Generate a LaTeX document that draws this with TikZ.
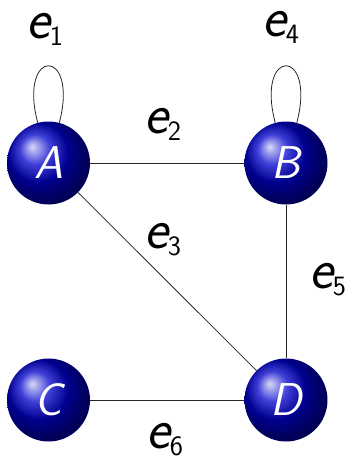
\documentclass[tikz,border=0pt]{standalone}
\usepackage{tikz}
\tikzset{
  vertex/.style={circle, minimum size=83pt, inner sep=0pt, ball color=blue!80!black,
    text=white, font=\fontsize{46}{50}\selectfont\sffamily\itshape},
  edge/.style={draw=black!85, line width=0.8pt},
  elabel/.style={anchor=base west, inner sep=0pt, outer sep=0pt}
}
\newcommand{\elab}[1]{{\fontsize{57}{60}\selectfont\sffamily\itshape e}\raisebox{-7pt}{\fontsize{28}{30}\selectfont\sffamily #1}}
\begin{document}
\begin{tikzpicture}[x=1pt,y=-1pt]
\useasboundingbox (0,0) rectangle (353,460);
\node[vertex] (A) at (48.5,163) {A};
\node[vertex] (B) at (286,163) {B};
\node[vertex] (C) at (48.5,400) {C};
\node[vertex] (D) at (286,400) {D};
\draw[edge] (A) -- (B);
\draw[edge] (A) -- (D);
\draw[edge] (B) -- (D);
\draw[edge] (C) -- (D);
\draw[edge] (A.105) .. controls +(-20,-76) and +(20,-76) .. (A.75);
\draw[edge] (B.105) .. controls +(-20,-76) and +(20,-76) .. (B.75);
\node[elabel] (l1) at (26,38) {\elab{1}};
\node[elabel] (l4) at (262,37) {\elab{4}};
\node[elabel] (l2) at (144,133) {\elab{2}};
\node[elabel] (l3) at (144,248) {\elab{3}};
\node[elabel] (l5) at (309,288) {\elab{5}};
\node[elabel] (l6) at (146,448) {\elab{6}};
\end{tikzpicture}
\end{document}
